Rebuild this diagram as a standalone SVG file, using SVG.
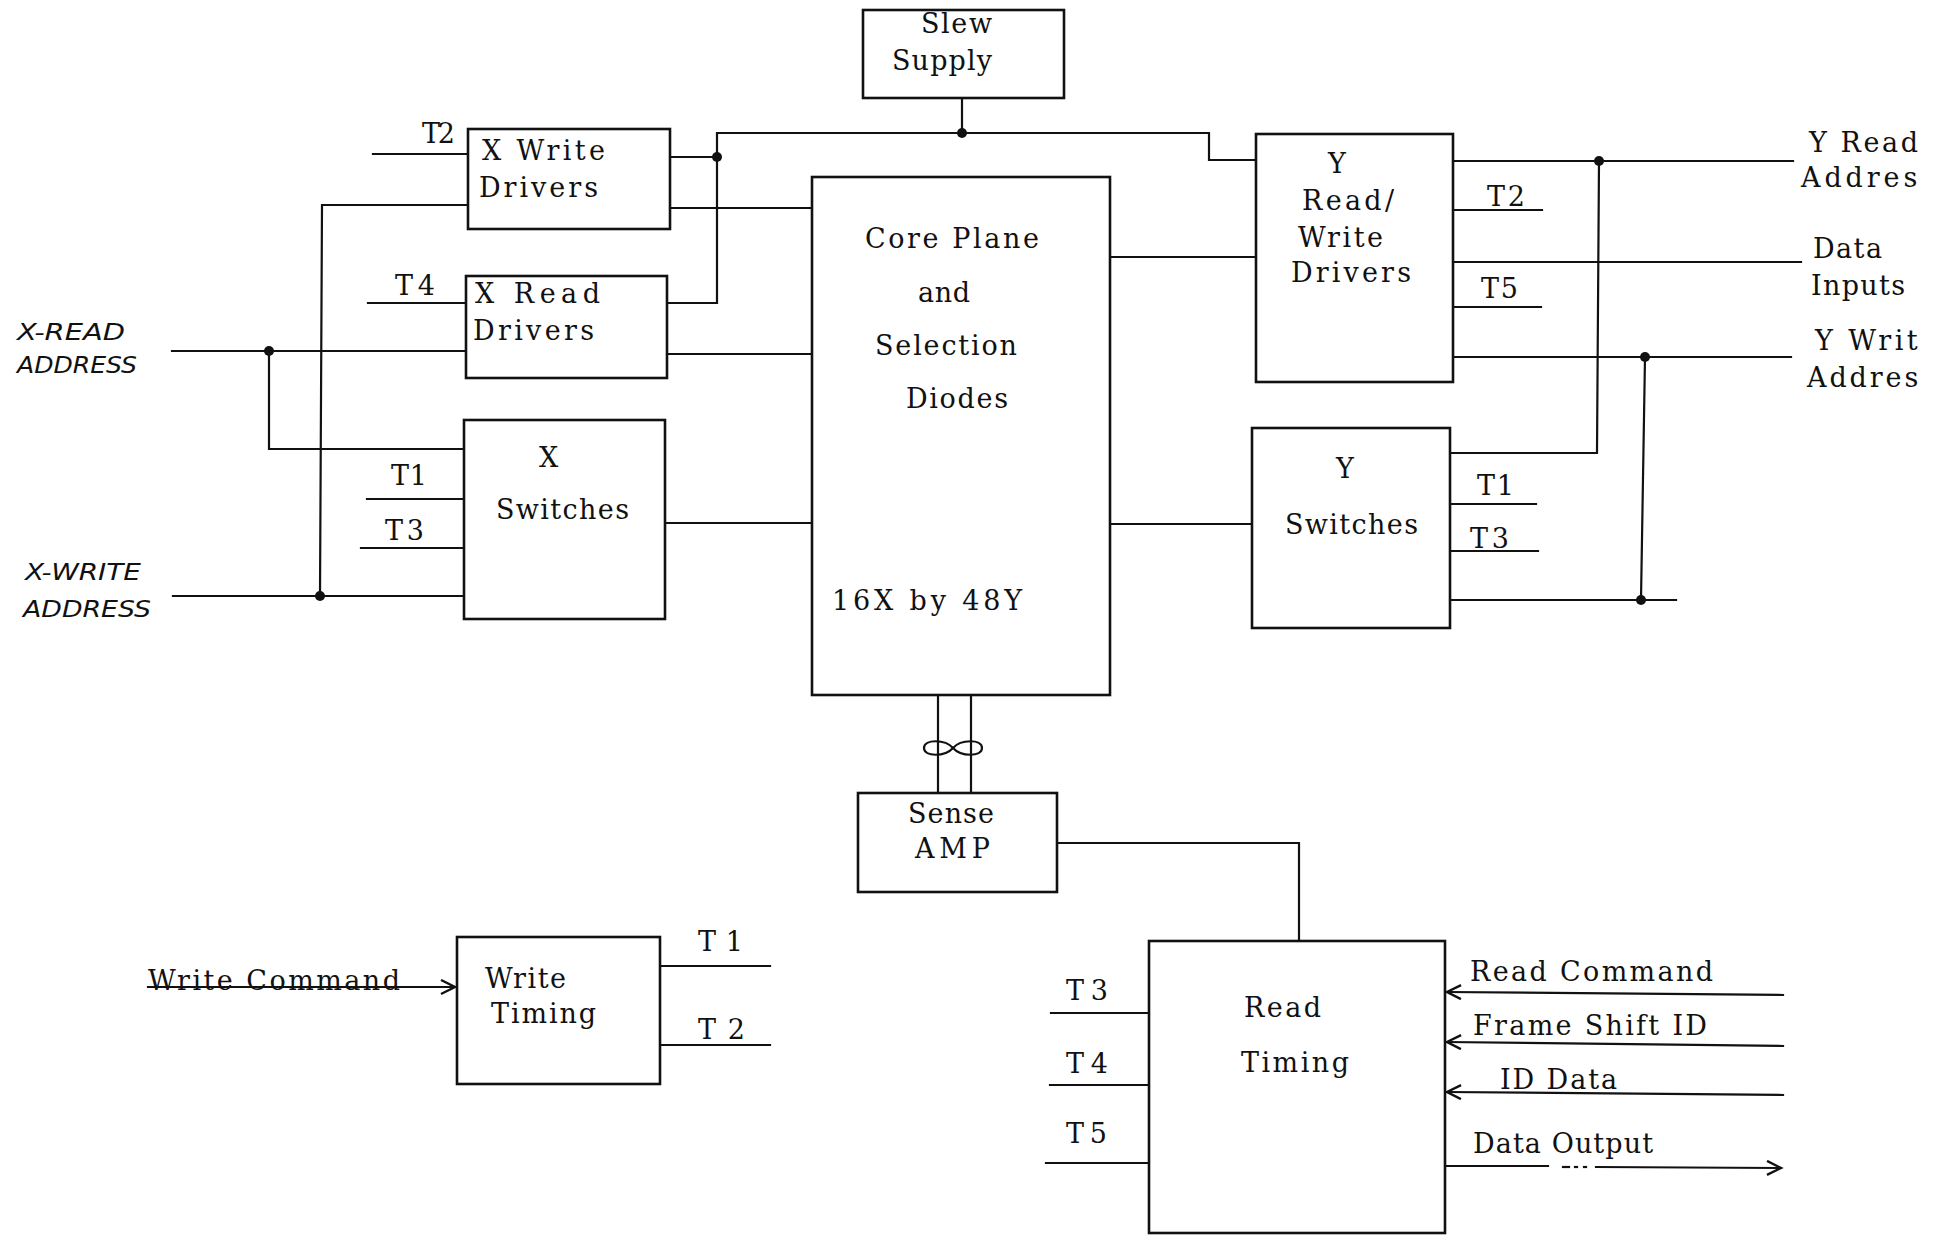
<svg xmlns="http://www.w3.org/2000/svg" width="1944" height="1240" viewBox="0 0 1944 1240">
<style>
.box{fill:#fff;stroke:#111;stroke-width:2.6}
.w{fill:none;stroke:#111;stroke-width:2.2;stroke-linecap:square}
.t{font-family:"DejaVu Serif","Liberation Serif",serif;font-size:27px;fill:#111}
.s{font-size:27px}
.h{font-family:"DejaVu Sans","Liberation Sans",sans-serif;font-style:italic;font-size:23px;fill:#111}
.dot{fill:#111}
</style>
<defs>
<marker id="arr" markerUnits="userSpaceOnUse" markerWidth="20" markerHeight="20" viewBox="0 0 20 20" refX="16" refY="8" orient="auto">
<path d="M2,1 L16,8 L2,15" fill="none" stroke="#111" stroke-width="2.4"/>
</marker>
<clipPath id="edge"><rect x="0" y="0" width="1921" height="1240"/></clipPath>
</defs>
<rect width="1944" height="1240" fill="#fff"/>

<g id="connectors">
<polyline class="w" points="373,154 468,154"/>
<polyline class="w" points="468,205 322,205 320,596"/>
<polyline class="w" points="368,303 466,303"/>
<polyline class="w" points="172,351 466,351"/>
<polyline class="w" points="269,351 269,449 464,449"/>
<polyline class="w" points="367,499 464,499"/>
<polyline class="w" points="361,548 464,548"/>
<polyline class="w" points="173,596 464,596"/>
<polyline class="w" points="670,157 717,157"/>
<polyline class="w" points="670,208 812,208"/>
<polyline class="w" points="667,303 717,303 717,133 1209,133 1209,160 1256,160"/>
<polyline class="w" points="667,354 812,354"/>
<polyline class="w" points="962,98 962,133"/>
<polyline class="w" points="665,523 812,523"/>
<polyline class="w" points="1110,257 1256,257"/>
<polyline class="w" points="1110,524 1252,524"/>
<polyline class="w" points="1453,161 1793,161"/>
<polyline class="w" points="1453,210 1542,210"/>
<polyline class="w" points="1453,262 1801,262"/>
<polyline class="w" points="1453,307 1541,307"/>
<polyline class="w" points="1453,357 1791,357"/>
<polyline class="w" points="1450,453 1597,453 1599,161"/>
<polyline class="w" points="1450,504 1536,504"/>
<polyline class="w" points="1450,551 1538,551"/>
<polyline class="w" points="1450,600 1676,600"/>
<polyline class="w" points="1645,357 1641,600"/>
<polyline class="w" points="938,695 938,793"/>
<polyline class="w" points="971,695 971,793"/>
<path class="w" d="M953,748 C945,739 924,739 924,748 C924,757 945,757 953,748 C961,739 982,739 982,748 C982,757 961,757 953,748 Z"/>
<polyline class="w" points="1057,843 1299,843 1299,941"/>
<polyline class="w" points="148,987 455,987" marker-end="url(#arr)"/>
<polyline class="w" points="660,966 770,966"/>
<polyline class="w" points="660,1045 770,1045"/>
<polyline class="w" points="1051,1013 1149,1013"/>
<polyline class="w" points="1050,1085 1149,1085"/>
<polyline class="w" points="1046,1163 1149,1163"/>
<polyline class="w" points="1783,995 1447,992" marker-end="url(#arr)"/>
<polyline class="w" points="1783,1046 1447,1042" marker-end="url(#arr)"/>
<polyline class="w" points="1783,1095 1447,1092" marker-end="url(#arr)"/>
<polyline class="w" points="1445,1166 1548,1166"/>
<polyline class="w" points="1563,1167 1569,1167"/>
<polyline class="w" points="1575,1167 1577,1167"/>
<polyline class="w" points="1584,1167 1586,1167"/>
<polyline class="w" points="1596,1167 1781,1168" marker-end="url(#arr)"/>
<circle class="dot" cx="269" cy="351" r="5"/>
<circle class="dot" cx="320" cy="596" r="5"/>
<circle class="dot" cx="717" cy="157" r="5"/>
<circle class="dot" cx="962" cy="133" r="5"/>
<circle class="dot" cx="1599" cy="161" r="5"/>
<circle class="dot" cx="1645" cy="357" r="5"/>
<circle class="dot" cx="1641" cy="600" r="5"/>
</g>

<g id="inputs-left">
<text class="h" x="17" y="340" textLength="108" lengthAdjust="spacingAndGlyphs">X-READ</text>
<text class="h" x="17" y="373" textLength="120" lengthAdjust="spacingAndGlyphs">ADDRESS</text>
<text class="h" x="25" y="580" textLength="116" lengthAdjust="spacingAndGlyphs">X-WRITE</text>
<text class="h" x="23" y="617" textLength="128" lengthAdjust="spacingAndGlyphs">ADDRESS</text>
</g>

<g id="slew-supply">
<rect class="box" x="863" y="10" width="201" height="88"/>
<text class="t" x="921" y="33" textLength="71" lengthAdjust="spacing">Slew</text>
<text class="t" x="892" y="70" textLength="100" lengthAdjust="spacing">Supply</text>
</g>

<g id="x-write-drivers">
<rect class="box" x="468" y="129" width="202" height="100"/>
<text class="t" x="422" y="143" textLength="33" lengthAdjust="spacing">T2</text>
<text class="t" x="482" y="160" textLength="123" lengthAdjust="spacing">X Write</text>
<text class="t" x="479" y="197" textLength="119" lengthAdjust="spacing">Drivers</text>
</g>

<g id="x-read-drivers">
<rect class="box" x="466" y="276" width="201" height="102"/>
<text class="t" x="395" y="295" textLength="40" lengthAdjust="spacing">T4</text>
<text class="t" x="475" y="303" textLength="125" lengthAdjust="spacing">X  Read</text>
<text class="t" x="473" y="340" textLength="121" lengthAdjust="spacing">Drivers</text>
</g>

<g id="x-switches">
<rect class="box" x="464" y="420" width="201" height="199"/>
<text class="t" x="391" y="485" textLength="36" lengthAdjust="spacing">T1</text>
<text class="t" x="385" y="540" textLength="39" lengthAdjust="spacing">T3</text>
<text class="t" x="539" y="467">X</text>
<text class="t" x="496" y="519" textLength="133" lengthAdjust="spacing">Switches</text>
</g>

<g id="core-plane">
<rect class="box" x="812" y="177" width="298" height="518"/>
<text class="t" x="865" y="248" textLength="174" lengthAdjust="spacing">Core Plane</text>
<text class="t" x="918" y="302" textLength="52" lengthAdjust="spacing">and</text>
<text class="t" x="875" y="355" textLength="142" lengthAdjust="spacing">Selection</text>
<text class="t" x="906" y="408" textLength="102" lengthAdjust="spacing">Diodes</text>
<text class="t" x="832" y="610" textLength="190" lengthAdjust="spacing">16X by 48Y</text>
</g>

<g id="y-read-write-drivers">
<rect class="box" x="1256" y="134" width="197" height="248"/>
<text class="t" x="1328" y="173">Y</text>
<text class="t" x="1302" y="210" textLength="92" lengthAdjust="spacing">Read/</text>
<text class="t" x="1298" y="247" textLength="85" lengthAdjust="spacing">Write</text>
<text class="t" x="1291" y="282" textLength="120" lengthAdjust="spacing">Drivers</text>
<text class="t" x="1487" y="206" textLength="38" lengthAdjust="spacing">T2</text>
<text class="t" x="1481" y="298" textLength="37" lengthAdjust="spacing">T5</text>
</g>

<g id="inputs-right" clip-path="url(#edge)">
<text class="t" x="1809" y="152" textLength="109" lengthAdjust="spacing">Y Read</text>
<text class="t" x="1801" y="187" textLength="134" lengthAdjust="spacing">Address</text>
<text class="t" x="1813" y="258" textLength="69" lengthAdjust="spacing">Data</text>
<text class="t" x="1811" y="295" textLength="94" lengthAdjust="spacing">Inputs</text>
<text class="t" x="1815" y="350" textLength="122" lengthAdjust="spacing">Y Write</text>
<text class="t" x="1807" y="387" textLength="128" lengthAdjust="spacing">Address</text>
</g>

<g id="y-switches">
<rect class="box" x="1252" y="428" width="198" height="200"/>
<text class="t" x="1336" y="478">Y</text>
<text class="t" x="1285" y="534" textLength="133" lengthAdjust="spacing">Switches</text>
<text class="t" x="1477" y="495" textLength="37" lengthAdjust="spacing">T1</text>
<text class="t" x="1470" y="548" textLength="39" lengthAdjust="spacing">T3</text>
</g>

<g id="sense-amp">
<rect class="box" x="858" y="793" width="199" height="99"/>
<text class="t" x="908" y="823" textLength="86" lengthAdjust="spacing">Sense</text>
<text class="t" x="915" y="858" textLength="75" lengthAdjust="spacing">AMP</text>
</g>

<g id="write-timing">
<rect class="box" x="457" y="937" width="203" height="147"/>
<text class="t s" x="148" y="990" textLength="252" lengthAdjust="spacing">Write Command</text>
<text class="t" x="485" y="988" textLength="81" lengthAdjust="spacing">Write</text>
<text class="t" x="491" y="1023" textLength="105" lengthAdjust="spacing">Timing</text>
<text class="t" x="698" y="951" textLength="45" lengthAdjust="spacing">T1</text>
<text class="t" x="698" y="1039" textLength="47" lengthAdjust="spacing">T2</text>
</g>

<g id="read-timing">
<rect class="box" x="1149" y="941" width="296" height="292"/>
<text class="t" x="1066" y="1000" textLength="42" lengthAdjust="spacing">T3</text>
<text class="t" x="1066" y="1073" textLength="42" lengthAdjust="spacing">T4</text>
<text class="t" x="1066" y="1143" textLength="41" lengthAdjust="spacing">T5</text>
<text class="t" x="1244" y="1017" textLength="77" lengthAdjust="spacing">Read</text>
<text class="t" x="1241" y="1072" textLength="108" lengthAdjust="spacing">Timing</text>
<text class="t s" x="1470" y="981" textLength="243" lengthAdjust="spacing">Read Command</text>
<text class="t s" x="1473" y="1035" textLength="234" lengthAdjust="spacing">Frame Shift ID</text>
<text class="t s" x="1500" y="1089" textLength="117" lengthAdjust="spacing">ID Data</text>
<text class="t s" x="1473" y="1153" textLength="180" lengthAdjust="spacing">Data Output</text>
</g>
</svg>
